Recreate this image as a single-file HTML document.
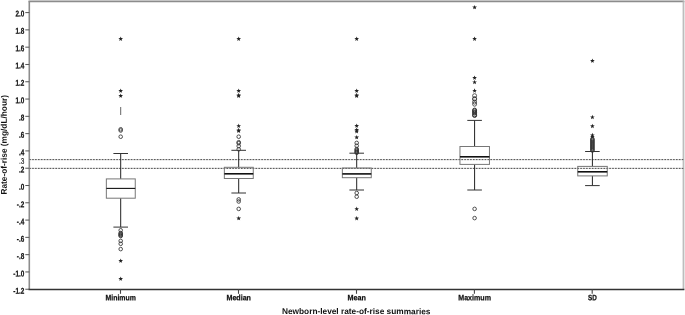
<!DOCTYPE html><html><head><meta charset="utf-8"><title>Box plot</title><style>html,body{margin:0;padding:0;background:#fff}svg{display:block}text{font-family:"Liberation Sans",Arial,sans-serif;fill:#111;text-rendering:geometricPrecision}</style></head><body>
<svg width="685" height="315" viewBox="0 0 685 315">
<rect width="685" height="315" fill="#fff"/>
<line x1="28.5" y1="1.3" x2="684.4" y2="1.3" stroke="#8c8c8c" stroke-width="1.7"/>
<line x1="683.5" y1="1.3" x2="683.5" y2="289.3" stroke="#bdbdbd" stroke-width="1.8"/>
<line x1="29.3" y1="1.3" x2="29.3" y2="289.3" stroke="#8c8c8c" stroke-width="1.6"/>
<line x1="28.5" y1="289.45" x2="684.4" y2="289.45" stroke="#333" stroke-width="1.5"/>
<line x1="25.3" y1="12.60" x2="29.3" y2="12.60" stroke="#555" stroke-width="1"/>
<text transform="translate(24.3,16.55) rotate(0.1) scale(0.75,1)" font-size="8.5" font-weight="bold" stroke="#111" stroke-width="0.25" text-anchor="end">2.0</text>
<line x1="25.3" y1="29.89" x2="29.3" y2="29.89" stroke="#555" stroke-width="1"/>
<text transform="translate(24.3,33.88) rotate(0.1) scale(0.75,1)" font-size="8.5" font-weight="bold" stroke="#111" stroke-width="0.25" text-anchor="end">1.8</text>
<line x1="25.3" y1="47.18" x2="29.3" y2="47.18" stroke="#555" stroke-width="1"/>
<text transform="translate(24.3,51.20) rotate(0.1) scale(0.75,1)" font-size="8.5" font-weight="bold" stroke="#111" stroke-width="0.25" text-anchor="end">1.6</text>
<line x1="25.3" y1="64.47" x2="29.3" y2="64.47" stroke="#555" stroke-width="1"/>
<text transform="translate(24.3,68.53) rotate(0.1) scale(0.75,1)" font-size="8.5" font-weight="bold" stroke="#111" stroke-width="0.25" text-anchor="end">1.4</text>
<line x1="25.3" y1="81.76" x2="29.3" y2="81.76" stroke="#555" stroke-width="1"/>
<text transform="translate(24.3,85.86) rotate(0.1) scale(0.75,1)" font-size="8.5" font-weight="bold" stroke="#111" stroke-width="0.25" text-anchor="end">1.2</text>
<line x1="25.3" y1="99.05" x2="29.3" y2="99.05" stroke="#555" stroke-width="1"/>
<text transform="translate(24.3,103.19) rotate(0.1) scale(0.75,1)" font-size="8.5" font-weight="bold" stroke="#111" stroke-width="0.25" text-anchor="end">1.0</text>
<line x1="25.3" y1="116.34" x2="29.3" y2="116.34" stroke="#555" stroke-width="1"/>
<text transform="translate(24.3,120.51) rotate(0.1) scale(0.75,1)" font-size="8.5" font-weight="bold" stroke="#111" stroke-width="0.25" text-anchor="end">.8</text>
<line x1="25.3" y1="133.63" x2="29.3" y2="133.63" stroke="#555" stroke-width="1"/>
<text transform="translate(24.3,137.84) rotate(0.1) scale(0.75,1)" font-size="8.5" font-weight="bold" stroke="#111" stroke-width="0.25" text-anchor="end">.6</text>
<line x1="25.3" y1="150.92" x2="29.3" y2="150.92" stroke="#555" stroke-width="1"/>
<text transform="translate(24.3,155.17) rotate(0.1) scale(0.75,1)" font-size="8.5" font-weight="bold" stroke="#111" stroke-width="0.25" text-anchor="end">.4</text>
<line x1="25.3" y1="168.21" x2="29.3" y2="168.21" stroke="#555" stroke-width="1"/>
<text transform="translate(24.3,172.50) rotate(0.1) scale(0.75,1)" font-size="8.5" font-weight="bold" stroke="#111" stroke-width="0.25" text-anchor="end">.2</text>
<line x1="25.3" y1="185.50" x2="29.3" y2="185.50" stroke="#555" stroke-width="1"/>
<text transform="translate(24.3,189.82) rotate(0.1) scale(0.75,1)" font-size="8.5" font-weight="bold" stroke="#111" stroke-width="0.25" text-anchor="end">.0</text>
<line x1="25.3" y1="202.79" x2="29.3" y2="202.79" stroke="#555" stroke-width="1"/>
<text transform="translate(24.3,207.15) rotate(0.1) scale(0.75,1)" font-size="8.5" font-weight="bold" stroke="#111" stroke-width="0.25" text-anchor="end">-.2</text>
<line x1="25.3" y1="220.08" x2="29.3" y2="220.08" stroke="#555" stroke-width="1"/>
<text transform="translate(24.3,224.48) rotate(0.1) scale(0.75,1)" font-size="8.5" font-weight="bold" stroke="#111" stroke-width="0.25" text-anchor="end">-.4</text>
<line x1="25.3" y1="237.37" x2="29.3" y2="237.37" stroke="#555" stroke-width="1"/>
<text transform="translate(24.3,241.81) rotate(0.1) scale(0.75,1)" font-size="8.5" font-weight="bold" stroke="#111" stroke-width="0.25" text-anchor="end">-.6</text>
<line x1="25.3" y1="254.66" x2="29.3" y2="254.66" stroke="#555" stroke-width="1"/>
<text transform="translate(24.3,259.13) rotate(0.1) scale(0.75,1)" font-size="8.5" font-weight="bold" stroke="#111" stroke-width="0.25" text-anchor="end">-.8</text>
<line x1="25.3" y1="271.95" x2="29.3" y2="271.95" stroke="#555" stroke-width="1"/>
<text transform="translate(24.3,276.46) rotate(0.1) scale(0.75,1)" font-size="8.5" font-weight="bold" stroke="#111" stroke-width="0.25" text-anchor="end">-1.0</text>
<line x1="25.3" y1="289.24" x2="29.3" y2="289.24" stroke="#555" stroke-width="1"/>
<text transform="translate(24.3,293.79) rotate(0.1) scale(0.75,1)" font-size="8.5" font-weight="bold" stroke="#111" stroke-width="0.25" text-anchor="end">-1.2</text>
<text transform="translate(24.3,163.66) rotate(0.1) scale(0.8,1)" font-size="8.1" fill="#222" stroke="#222" stroke-width="0.15" text-anchor="end">.3</text>
<line x1="29.3" y1="159.60" x2="683.5" y2="159.60" stroke="#dcdcdc" stroke-width="1.2"/>
<line x1="29.3" y1="159.60" x2="683.5" y2="159.60" stroke="#444" stroke-width="0.92" stroke-dasharray="1.6 1.3"/>
<line x1="29.3" y1="168.40" x2="683.5" y2="168.40" stroke="#dcdcdc" stroke-width="1.2"/>
<line x1="29.3" y1="168.40" x2="683.5" y2="168.40" stroke="#444" stroke-width="0.92" stroke-dasharray="1.6 1.3"/>
<line x1="120.5" y1="289.3" x2="120.5" y2="293.8" stroke="#444" stroke-width="1.1"/>
<text transform="translate(120.7,300.35) rotate(0.1) scale(0.8851,1)" font-size="7.8" font-weight="bold" stroke="#111" stroke-width="0.25" text-anchor="middle">Minimum</text>
<line x1="238.5" y1="289.3" x2="238.5" y2="293.8" stroke="#444" stroke-width="1.1"/>
<text transform="translate(238.7,300.35) rotate(0.1) scale(0.9118,1)" font-size="7.8" font-weight="bold" stroke="#111" stroke-width="0.25" text-anchor="middle">Median</text>
<line x1="356.5" y1="289.3" x2="356.5" y2="293.8" stroke="#444" stroke-width="1.1"/>
<text transform="translate(356.7,300.35) rotate(0.1) scale(0.9228,1)" font-size="7.8" font-weight="bold" stroke="#111" stroke-width="0.25" text-anchor="middle">Mean</text>
<line x1="474.40000000000003" y1="289.3" x2="474.40000000000003" y2="293.8" stroke="#444" stroke-width="1.1"/>
<text transform="translate(474.6,300.35) rotate(0.1) scale(0.9087,1)" font-size="7.8" font-weight="bold" stroke="#111" stroke-width="0.25" text-anchor="middle">Maximum</text>
<line x1="592.1999999999999" y1="289.3" x2="592.1999999999999" y2="293.8" stroke="#444" stroke-width="1.1"/>
<text transform="translate(592.4,300.35) rotate(0.1) scale(0.8113,1)" font-size="7.8" font-weight="bold" stroke="#111" stroke-width="0.25" text-anchor="middle">SD</text>
<text transform="translate(356.2,314.05) rotate(0.1)" font-size="8.3" font-weight="bold" text-anchor="middle">Newborn-level rate-of-rise summaries</text>
<text transform="translate(6.8,144.8) rotate(-89.9)" font-size="8.3" font-weight="bold" text-anchor="middle">Rate-of-rise (mg/dL/hour)</text>
<line x1="120.7" y1="153.5" x2="120.7" y2="178.9" stroke="#222" stroke-width="1"/>
<line x1="120.7" y1="198.2" x2="120.7" y2="227.1" stroke="#222" stroke-width="1"/>
<line x1="113.4" y1="153.5" x2="128.0" y2="153.5" stroke="#333" stroke-width="1"/>
<line x1="113.4" y1="227.1" x2="128.0" y2="227.1" stroke="#333" stroke-width="1"/>
<rect x="106.35" y="178.9" width="28.9" height="19.30" fill="none" stroke="#777" stroke-width="1"/>
<line x1="106.35" y1="188.4" x2="135.25" y2="188.4" stroke="#111" stroke-width="1.1"/>
<line x1="238.7" y1="150.3" x2="238.7" y2="167.3" stroke="#222" stroke-width="1"/>
<line x1="238.7" y1="178.5" x2="238.7" y2="193.0" stroke="#222" stroke-width="1"/>
<line x1="231.39999999999998" y1="150.3" x2="246.0" y2="150.3" stroke="#333" stroke-width="1"/>
<line x1="231.39999999999998" y1="193.0" x2="246.0" y2="193.0" stroke="#333" stroke-width="1"/>
<rect x="224.35" y="167.3" width="28.9" height="11.20" fill="none" stroke="#777" stroke-width="1"/>
<line x1="224.35" y1="173.8" x2="253.25" y2="173.8" stroke="#111" stroke-width="1.6"/>
<line x1="356.7" y1="153.2" x2="356.7" y2="168.0" stroke="#222" stroke-width="1"/>
<line x1="356.7" y1="177.7" x2="356.7" y2="190.0" stroke="#222" stroke-width="1"/>
<line x1="349.4" y1="153.2" x2="364.0" y2="153.2" stroke="#333" stroke-width="1"/>
<line x1="349.4" y1="190.0" x2="364.0" y2="190.0" stroke="#333" stroke-width="1"/>
<rect x="342.35" y="168.0" width="28.9" height="9.70" fill="none" stroke="#777" stroke-width="1"/>
<line x1="342.35" y1="173.9" x2="371.25" y2="173.9" stroke="#111" stroke-width="1.6"/>
<line x1="474.6" y1="120.4" x2="474.6" y2="146.5" stroke="#222" stroke-width="1"/>
<line x1="474.6" y1="164.4" x2="474.6" y2="190.0" stroke="#222" stroke-width="1"/>
<line x1="467.3" y1="120.4" x2="481.90000000000003" y2="120.4" stroke="#333" stroke-width="1"/>
<line x1="467.3" y1="190.0" x2="481.90000000000003" y2="190.0" stroke="#333" stroke-width="1"/>
<rect x="459.95" y="146.5" width="29.5" height="17.90" fill="none" stroke="#777" stroke-width="1"/>
<line x1="459.95" y1="156.8" x2="489.45" y2="156.8" stroke="#111" stroke-width="1.6"/>
<line x1="592.4" y1="151.5" x2="592.4" y2="166.4" stroke="#222" stroke-width="1"/>
<line x1="592.4" y1="175.9" x2="592.4" y2="185.6" stroke="#222" stroke-width="1"/>
<line x1="585.1" y1="151.5" x2="599.6999999999999" y2="151.5" stroke="#333" stroke-width="1"/>
<line x1="585.1" y1="185.6" x2="599.6999999999999" y2="185.6" stroke="#333" stroke-width="1"/>
<rect x="577.75" y="166.4" width="29.5" height="9.50" fill="none" stroke="#777" stroke-width="1"/>
<line x1="577.75" y1="171.8" x2="607.25" y2="171.8" stroke="#111" stroke-width="1.6"/>
<circle cx="120.7" cy="129.3" r="1.8" fill="none" stroke="#333" stroke-width="0.85"/>
<circle cx="120.7" cy="130.5" r="1.8" fill="none" stroke="#333" stroke-width="0.85"/>
<circle cx="120.7" cy="136.7" r="1.8" fill="none" stroke="#333" stroke-width="0.85"/>
<circle cx="120.7" cy="230.3" r="1.8" fill="none" stroke="#333" stroke-width="0.85"/>
<circle cx="120.7" cy="233.0" r="1.8" fill="none" stroke="#333" stroke-width="0.85"/>
<circle cx="120.7" cy="233.8" r="1.8" fill="none" stroke="#333" stroke-width="0.85"/>
<circle cx="120.7" cy="234.6" r="1.8" fill="none" stroke="#333" stroke-width="0.85"/>
<circle cx="120.7" cy="235.4" r="1.8" fill="none" stroke="#333" stroke-width="0.85"/>
<circle cx="120.7" cy="236.0" r="1.8" fill="none" stroke="#333" stroke-width="0.85"/>
<circle cx="120.7" cy="240.9" r="1.8" fill="none" stroke="#333" stroke-width="0.85"/>
<circle cx="120.7" cy="243.8" r="1.8" fill="none" stroke="#333" stroke-width="0.85"/>
<circle cx="120.7" cy="249.1" r="1.8" fill="none" stroke="#333" stroke-width="0.85"/>
<polygon points="120.70,36.50 121.30,38.12 123.03,38.19 121.68,39.27 122.14,40.93 120.70,39.98 119.26,40.93 119.72,39.27 118.37,38.19 120.10,38.12" fill="#222"/>
<polygon points="120.70,88.40 121.30,90.02 123.03,90.09 121.68,91.17 122.14,92.83 120.70,91.88 119.26,92.83 119.72,91.17 118.37,90.09 120.10,90.02" fill="#222"/>
<polygon points="120.70,93.40 121.30,95.02 123.03,95.09 121.68,96.17 122.14,97.83 120.70,96.88 119.26,97.83 119.72,96.17 118.37,95.09 120.10,95.02" fill="#222"/>
<polygon points="120.70,258.40 121.30,260.02 123.03,260.09 121.68,261.17 122.14,262.83 120.70,261.88 119.26,262.83 119.72,261.17 118.37,260.09 120.10,260.02" fill="#222"/>
<polygon points="120.70,276.40 121.30,278.02 123.03,278.09 121.68,279.17 122.14,280.83 120.70,279.88 119.26,280.83 119.72,279.17 118.37,278.09 120.10,278.02" fill="#222"/>
<circle cx="238.7" cy="136.7" r="1.8" fill="none" stroke="#333" stroke-width="0.85"/>
<circle cx="238.7" cy="142.2" r="1.8" fill="none" stroke="#333" stroke-width="0.85"/>
<circle cx="238.7" cy="143.2" r="1.8" fill="none" stroke="#333" stroke-width="0.85"/>
<circle cx="238.7" cy="146.1" r="1.8" fill="none" stroke="#333" stroke-width="0.85"/>
<circle cx="238.7" cy="149.3" r="1.8" fill="none" stroke="#333" stroke-width="0.85"/>
<circle cx="238.7" cy="199.4" r="1.8" fill="none" stroke="#333" stroke-width="0.85"/>
<circle cx="238.7" cy="201.5" r="1.8" fill="none" stroke="#333" stroke-width="0.85"/>
<circle cx="238.7" cy="208.9" r="1.8" fill="none" stroke="#333" stroke-width="0.85"/>
<polygon points="238.70,36.50 239.30,38.12 241.03,38.19 239.68,39.27 240.14,40.93 238.70,39.98 237.26,40.93 237.72,39.27 236.37,38.19 238.10,38.12" fill="#222"/>
<polygon points="238.70,88.40 239.30,90.02 241.03,90.09 239.68,91.17 240.14,92.83 238.70,91.88 237.26,92.83 237.72,91.17 236.37,90.09 238.10,90.02" fill="#222"/>
<polygon points="238.70,92.80 239.30,94.42 241.03,94.49 239.68,95.57 240.14,97.23 238.70,96.28 237.26,97.23 237.72,95.57 236.37,94.49 238.10,94.42" fill="#222"/>
<polygon points="238.70,93.60 239.30,95.22 241.03,95.29 239.68,96.37 240.14,98.03 238.70,97.08 237.26,98.03 237.72,96.37 236.37,95.29 238.10,95.22" fill="#222"/>
<polygon points="238.70,123.60 239.30,125.22 241.03,125.29 239.68,126.37 240.14,128.03 238.70,127.08 237.26,128.03 237.72,126.37 236.37,125.29 238.10,125.22" fill="#222"/>
<polygon points="238.70,127.80 239.30,129.42 241.03,129.49 239.68,130.57 240.14,132.23 238.70,131.28 237.26,132.23 237.72,130.57 236.37,129.49 238.10,129.42" fill="#222"/>
<polygon points="238.70,128.60 239.30,130.22 241.03,130.29 239.68,131.37 240.14,133.03 238.70,132.08 237.26,133.03 237.72,131.37 236.37,130.29 238.10,130.22" fill="#222"/>
<polygon points="238.70,215.90 239.30,217.52 241.03,217.59 239.68,218.67 240.14,220.33 238.70,219.38 237.26,220.33 237.72,218.67 236.37,217.59 238.10,217.52" fill="#222"/>
<circle cx="356.7" cy="142.9" r="1.8" fill="none" stroke="#333" stroke-width="0.85"/>
<circle cx="356.7" cy="145.8" r="1.8" fill="none" stroke="#333" stroke-width="0.85"/>
<circle cx="356.7" cy="149.0" r="1.8" fill="none" stroke="#333" stroke-width="0.85"/>
<circle cx="356.7" cy="150" r="1.8" fill="none" stroke="#333" stroke-width="0.85"/>
<circle cx="356.7" cy="151" r="1.8" fill="none" stroke="#333" stroke-width="0.85"/>
<circle cx="356.7" cy="152" r="1.8" fill="none" stroke="#333" stroke-width="0.85"/>
<circle cx="356.7" cy="152.8" r="1.8" fill="none" stroke="#333" stroke-width="0.85"/>
<circle cx="356.7" cy="193.0" r="1.8" fill="none" stroke="#333" stroke-width="0.85"/>
<circle cx="356.7" cy="196.7" r="1.8" fill="none" stroke="#333" stroke-width="0.85"/>
<polygon points="356.70,36.50 357.30,38.12 359.03,38.19 357.68,39.27 358.14,40.93 356.70,39.98 355.26,40.93 355.72,39.27 354.37,38.19 356.10,38.12" fill="#222"/>
<polygon points="356.70,88.40 357.30,90.02 359.03,90.09 357.68,91.17 358.14,92.83 356.70,91.88 355.26,92.83 355.72,91.17 354.37,90.09 356.10,90.02" fill="#222"/>
<polygon points="356.70,92.80 357.30,94.42 359.03,94.49 357.68,95.57 358.14,97.23 356.70,96.28 355.26,97.23 355.72,95.57 354.37,94.49 356.10,94.42" fill="#222"/>
<polygon points="356.70,93.60 357.30,95.22 359.03,95.29 357.68,96.37 358.14,98.03 356.70,97.08 355.26,98.03 355.72,96.37 354.37,95.29 356.10,95.22" fill="#222"/>
<polygon points="356.70,123.40 357.30,125.02 359.03,125.09 357.68,126.17 358.14,127.83 356.70,126.88 355.26,127.83 355.72,126.17 354.37,125.09 356.10,125.02" fill="#222"/>
<polygon points="356.70,127.50 357.30,129.12 359.03,129.19 357.68,130.27 358.14,131.93 356.70,130.98 355.26,131.93 355.72,130.27 354.37,129.19 356.10,129.12" fill="#222"/>
<polygon points="356.70,129.00 357.30,130.62 359.03,130.69 357.68,131.77 358.14,133.43 356.70,132.48 355.26,133.43 355.72,131.77 354.37,130.69 356.10,130.62" fill="#222"/>
<polygon points="356.70,134.90 357.30,136.52 359.03,136.59 357.68,137.67 358.14,139.33 356.70,138.38 355.26,139.33 355.72,137.67 354.37,136.59 356.10,136.52" fill="#222"/>
<polygon points="356.70,206.60 357.30,208.22 359.03,208.29 357.68,209.37 358.14,211.03 356.70,210.08 355.26,211.03 355.72,209.37 354.37,208.29 356.10,208.22" fill="#222"/>
<polygon points="356.70,216.00 357.30,217.62 359.03,217.69 357.68,218.77 358.14,220.43 356.70,219.48 355.26,220.43 355.72,218.77 354.37,217.69 356.10,217.62" fill="#222"/>
<circle cx="474.6" cy="95.7" r="2.0" fill="none" stroke="#333" stroke-width="0.8"/>
<circle cx="474.6" cy="98.7" r="2.0" fill="none" stroke="#333" stroke-width="0.8"/>
<circle cx="474.6" cy="99.2" r="2.0" fill="none" stroke="#333" stroke-width="0.8"/>
<circle cx="474.6" cy="102.1" r="2.0" fill="none" stroke="#333" stroke-width="0.8"/>
<circle cx="474.6" cy="104.2" r="2.0" fill="none" stroke="#333" stroke-width="0.8"/>
<circle cx="474.6" cy="110.1" r="2.0" fill="none" stroke="#333" stroke-width="0.95"/>
<circle cx="474.6" cy="110.9" r="2.0" fill="none" stroke="#333" stroke-width="0.95"/>
<circle cx="474.6" cy="112.3" r="2.0" fill="none" stroke="#333" stroke-width="0.95"/>
<circle cx="474.6" cy="113.1" r="2.0" fill="none" stroke="#333" stroke-width="0.95"/>
<circle cx="474.6" cy="114.8" r="2.0" fill="none" stroke="#333" stroke-width="0.95"/>
<circle cx="474.6" cy="115.5" r="2.0" fill="none" stroke="#333" stroke-width="0.95"/>
<circle cx="474.6" cy="208.9" r="1.8" fill="none" stroke="#333" stroke-width="0.85"/>
<circle cx="474.6" cy="218.1" r="1.8" fill="none" stroke="#333" stroke-width="0.85"/>
<polygon points="474.60,4.90 475.20,6.52 476.93,6.59 475.58,7.67 476.04,9.33 474.60,8.38 473.16,9.33 473.62,7.67 472.27,6.59 474.00,6.52" fill="#222"/>
<polygon points="474.60,36.50 475.20,38.12 476.93,38.19 475.58,39.27 476.04,40.93 474.60,39.98 473.16,40.93 473.62,39.27 472.27,38.19 474.00,38.12" fill="#222"/>
<polygon points="474.60,75.40 475.20,77.02 476.93,77.09 475.58,78.17 476.04,79.83 474.60,78.88 473.16,79.83 473.62,78.17 472.27,77.09 474.00,77.02" fill="#222"/>
<polygon points="474.60,79.80 475.20,81.42 476.93,81.49 475.58,82.57 476.04,84.23 474.60,83.28 473.16,84.23 473.62,82.57 472.27,81.49 474.00,81.42" fill="#222"/>
<polygon points="474.60,88.30 475.20,89.92 476.93,89.99 475.58,91.07 476.04,92.73 474.60,91.78 473.16,92.73 473.62,91.07 472.27,89.99 474.00,89.92" fill="#222"/>
<circle cx="592.4" cy="138.9" r="1.8" fill="none" stroke="#333" stroke-width="0.85"/>
<circle cx="592.4" cy="139.8" r="1.8" fill="none" stroke="#333" stroke-width="0.85"/>
<circle cx="592.4" cy="140.7" r="1.8" fill="none" stroke="#333" stroke-width="0.85"/>
<circle cx="592.4" cy="141.6" r="1.8" fill="none" stroke="#333" stroke-width="0.85"/>
<circle cx="592.4" cy="142.5" r="1.8" fill="none" stroke="#333" stroke-width="0.85"/>
<circle cx="592.4" cy="143.4" r="1.8" fill="none" stroke="#333" stroke-width="0.85"/>
<circle cx="592.4" cy="144.3" r="1.8" fill="none" stroke="#333" stroke-width="0.85"/>
<circle cx="592.4" cy="145.2" r="1.8" fill="none" stroke="#333" stroke-width="0.85"/>
<circle cx="592.4" cy="146.1" r="1.8" fill="none" stroke="#333" stroke-width="0.85"/>
<circle cx="592.4" cy="147" r="1.8" fill="none" stroke="#333" stroke-width="0.85"/>
<circle cx="592.4" cy="147.9" r="1.8" fill="none" stroke="#333" stroke-width="0.85"/>
<circle cx="592.4" cy="148.8" r="1.8" fill="none" stroke="#333" stroke-width="0.85"/>
<circle cx="592.4" cy="149.7" r="1.8" fill="none" stroke="#333" stroke-width="0.85"/>
<circle cx="592.4" cy="150.5" r="1.8" fill="none" stroke="#333" stroke-width="0.85"/>
<polygon points="592.40,58.40 593.00,60.02 594.73,60.09 593.38,61.17 593.84,62.83 592.40,61.88 590.96,62.83 591.42,61.17 590.07,60.09 591.80,60.02" fill="#222"/>
<polygon points="592.40,114.80 593.00,116.42 594.73,116.49 593.38,117.57 593.84,119.23 592.40,118.28 590.96,119.23 591.42,117.57 590.07,116.49 591.80,116.42" fill="#222"/>
<polygon points="592.40,123.70 593.00,125.32 594.73,125.39 593.38,126.47 593.84,128.13 592.40,127.18 590.96,128.13 591.42,126.47 590.07,125.39 591.80,125.32" fill="#222"/>
<polygon points="592.40,132.80 593.00,134.42 594.73,134.49 593.38,135.57 593.84,137.23 592.40,136.28 590.96,137.23 591.42,135.57 590.07,134.49 591.80,134.42" fill="#222"/>
<polygon points="592.40,134.30 593.00,135.92 594.73,135.99 593.38,137.07 593.84,138.73 592.40,137.78 590.96,138.73 591.42,137.07 590.07,135.99 591.80,135.92" fill="#222"/>
<line x1="120.7" y1="107" x2="120.7" y2="115" stroke="#555" stroke-width="0.9"/>
</svg></body></html>
